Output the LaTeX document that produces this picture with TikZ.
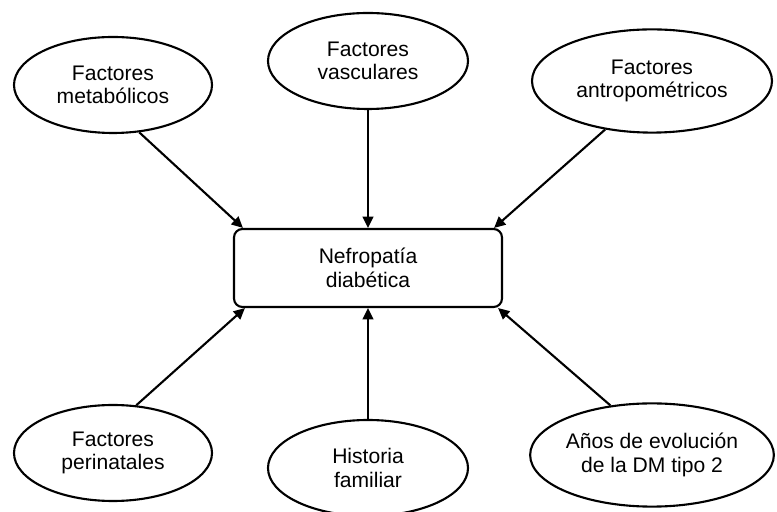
\documentclass[tikz,border=0pt]{standalone}
\usepackage{fontspec}
\setsansfont{Liberation Sans}
\usetikzlibrary{arrows.meta, shapes.geometric}
\definecolor{inkdark}{HTML}{000000}

\begin{document}
\begin{tikzpicture}[
    font=\sffamily\fontsize{15}{16.6}\selectfont,
    >={Triangle[length=8pt, width=7.5pt]},
    factor oval/.style={ellipse, draw=inkdark, line width=1.5pt, fill=white,
        inner sep=0pt, align=center, text=inkdark,
        minimum width=#1, minimum height=2.4cm},
    wide oval/.style={factor oval=6.0cm, minimum height=2.58cm},
    core box/.style={draw=inkdark, line width=1.5pt, rounded corners=6pt,
        align=center, text=inkdark, minimum width=6.7cm, minimum height=1.95cm},
    influence/.style={draw=inkdark, line width=1.5pt, ->},
]

% ══════════════════════════════════════════════════════════════════════
%  DIMENSIONS — three factors above, three below, one outcome box
% ══════════════════════════════════════════════════════════════════════
\def\colL{2.825}  \def\colM{9.2}  \def\colR{16.3}
\def\ovalW{4.95cm}
\useasboundingbox (0,0) rectangle (19.425,-12.8);

% ── Outcome ───────────────────────────────────────────────────────────
\node[core box] (nefro) at (\colM,-6.7) {Nefropatía\\diabética};

% ── Upper factors ─────────────────────────────────────────────────────
\node[factor oval=\ovalW] (metab) at (\colL,-2.125) {Factores\\metabólicos};
\node[factor oval=5.0cm]  (vasc)  at (\colM,-1.525) {Factores\\vasculares};
\node[wide oval]          (antro) at (\colR,-2.025) {Factores\\antropométricos};

% ── Lower factors ─────────────────────────────────────────────────────
\node[factor oval=\ovalW] (perin) at (\colL,-11.325) {Factores\\perinatales};
\node[factor oval=5.0cm]  (hist)  at (\colM,-11.7) {Historia\\familiar};
\node[wide oval]          (anios) at (\colR,-11.375) {Años de evolución\\de la DM tipo 2};

% ── Influence arrows  (factor -> nefropatía) ──────────────────────────
\draw[influence] (metab.-61)  -- ([xshift=0.25cm]nefro.north west);
\draw[influence] (vasc)       -- (nefro);
\draw[influence] (antro.-134) -- ([xshift=-0.225cm]nefro.north east);
\draw[influence] (perin.64)   -- ([xshift=0.3cm]nefro.south west);
\draw[influence] (hist)       -- (nefro);
\draw[influence] (anios.130)  -- ([xshift=-0.125cm]nefro.south east);

\end{tikzpicture}
\end{document}
